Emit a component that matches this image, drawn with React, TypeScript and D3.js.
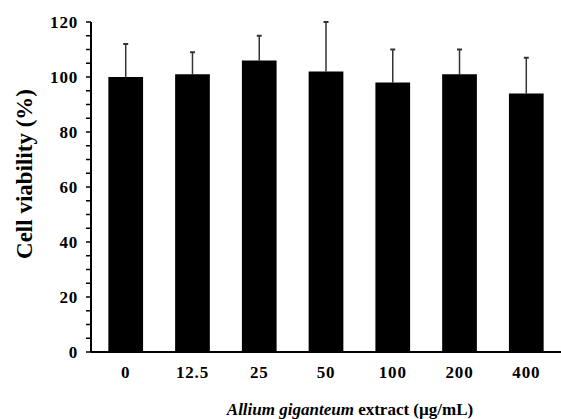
import React, { useEffect, useRef } from "react";
import * as d3 from "d3";

const categories = ["0", "12.5", "25", "50", "100", "200", "400"];
const viability = [100, 101, 106, 102, 98, 101, 94];
const errors = [12, 8, 9, 18, 12, 9, 13];
const yTicks = [0, 20, 40, 60, 80, 100, 120];
const yMinorTicks = d3.range(0, 121, 5);

const FONT = "'Liberation Serif', 'Times New Roman', serif";

function Chart() {
  const ref = useRef<SVGSVGElement | null>(null);

  useEffect(() => {
    const svg = d3.select(ref.current);
    svg.selectAll("*").remove();

    const width = 561;
    const height = 419;
    const left = 91;
    const right = 561;
    const top = 22;
    const bottom = 352;

    const x = d3
      .scaleBand()
      .domain(categories)
      .range([left, right])
      .paddingInner(0.48)
      .paddingOuter(0.26);

    const y = d3.scaleLinear().domain([0, 120]).range([bottom, top]);

    svg.attr("width", width).attr("height", height);

    const rows = categories.map((c, i) => ({
      cat: c,
      value: viability[i],
      err: errors[i],
    }));

    // error bars (upper only)
    const eb = svg.append("g").attr("stroke", "#333");
    eb.selectAll("line.v")
      .data(rows)
      .enter()
      .append("line")
      .attr("x1", (d) => x(d.cat)! + x.bandwidth() / 2)
      .attr("x2", (d) => x(d.cat)! + x.bandwidth() / 2)
      .attr("y1", (d) => y(d.value))
      .attr("y2", (d) => y(d.value + d.err))
      .attr("stroke-width", 1.5);
    eb.selectAll("line.cap")
      .data(rows)
      .enter()
      .append("line")
      .attr("x1", (d) => x(d.cat)! + x.bandwidth() / 2 - 2.5)
      .attr("x2", (d) => x(d.cat)! + x.bandwidth() / 2 + 2.5)
      .attr("y1", (d) => y(d.value + d.err))
      .attr("y2", (d) => y(d.value + d.err))
      .attr("stroke-width", 2);

    // bars
    svg
      .append("g")
      .selectAll("rect")
      .data(rows)
      .enter()
      .append("rect")
      .attr("x", (d) => x(d.cat)!)
      .attr("width", x.bandwidth())
      .attr("y", (d) => y(d.value))
      .attr("height", (d) => y(0) - y(d.value))
      .attr("fill", "#000");

    // y axis
    const yAxis = svg.append("g").attr("transform", `translate(${left},0)`);
    yAxis
      .append("line")
      .attr("y1", y(120))
      .attr("y2", y(0))
      .attr("stroke", "#000")
      .attr("stroke-width", 2);
    yAxis
      .selectAll("line.tick")
      .data(yMinorTicks)
      .enter()
      .append("line")
      .attr("x1", -5)
      .attr("x2", 0)
      .attr("y1", (d) => y(d))
      .attr("y2", (d) => y(d))
      .attr("stroke", "#000")
      .attr("stroke-width", 1.5);
    yAxis
      .selectAll("text")
      .data(yTicks)
      .enter()
      .append("text")
      .attr("x", -13)
      .attr("y", (d) => y(d))
      .attr("dy", "0.35em")
      .attr("text-anchor", "end")
      .attr("font-family", FONT)
      .attr("font-weight", "bold")
      .attr("font-size", 17)
      .attr("letter-spacing", 0.8)
      .text((d) => d);

    // x axis
    const xAxis = svg.append("g").attr("transform", `translate(0,${bottom})`);
    xAxis
      .append("line")
      .attr("x1", left)
      .attr("x2", right)
      .attr("stroke", "#000")
      .attr("stroke-width", 2);
    xAxis
      .selectAll("text")
      .data(categories)
      .enter()
      .append("text")
      .attr("x", (d) => x(d)! + x.bandwidth() / 2)
      .attr("y", 26)
      .attr("text-anchor", "middle")
      .attr("font-family", FONT)
      .attr("font-weight", "bold")
      .attr("font-size", 17)
      .attr("letter-spacing", 0.8)
      .text((d) => d);

    // y label
    svg
      .append("text")
      .attr("transform", `translate(32,174) rotate(-90)`)
      .attr("text-anchor", "middle")
      .attr("font-family", FONT)
      .attr("font-weight", "bold")
      .attr("font-size", 23)
      .text("Cell viability (%)");

    // x label
    const xl = svg
      .append("text")
      .attr("x", 350)
      .attr("y", 415)
      .attr("text-anchor", "middle")
      .attr("font-family", FONT)
      .attr("font-weight", "bold")
      .attr("font-size", 17);
    xl.append("tspan").attr("font-style", "italic").text("Allium giganteum");
    xl.append("tspan").text(" extract (µg/mL)");
  }, []);

  return <svg ref={ref} style={{ display: "block" }} />;
}

export default function App() {
  return (
    <div style={{ position: "absolute", left: 0, top: 0, background: "#fff" }}>
      <Chart />
    </div>
  );
}
